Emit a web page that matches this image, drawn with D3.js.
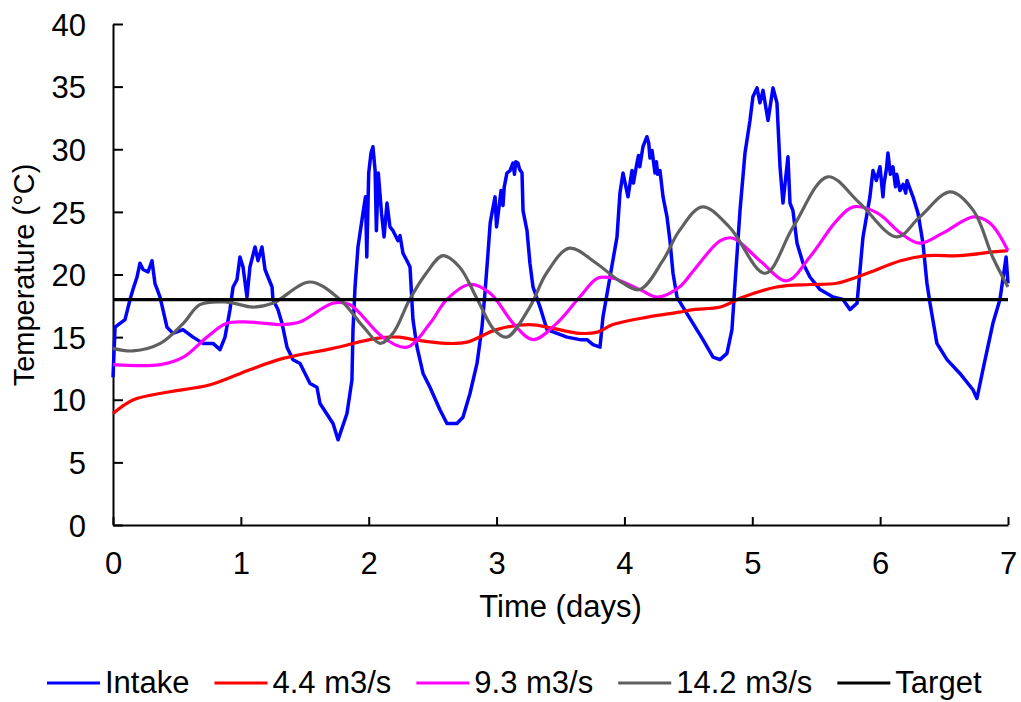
<!DOCTYPE html>
<html>
<head>
<meta charset="utf-8">
<script src="https://cdn.jsdelivr.net/npm/d3@7"></script>
<style>
  body { margin: 0; background: #fff; }
  text { font-family: "Liberation Sans", Arial, sans-serif; fill: #000; }
</style>
</head>
<body>
<svg id="chart" width="1021" height="702"></svg>
<script>
const svg = d3.select("#chart"); // Select the SVG element

// Series data: [time in days, temperature in °C]
const intake = [
    [0, 11.8], [0.016, 15.8], [0.055, 16.1], [0.094, 16.4], [0.133, 18.0], [0.156, 18.8], [0.188, 19.8],
    [0.211, 20.9], [0.235, 20.4], [0.274, 20.2], [0.305, 21.1], [0.328, 19.3], [0.368, 18.2], [0.422, 15.8],
    [0.469, 15.3], [0.547, 15.6], [0.626, 15.0], [0.704, 14.5], [0.782, 14.5], [0.837, 14.0], [0.876, 15.0],
    [0.915, 17.2], [0.939, 19.0], [0.970, 19.6], [0.993, 21.4], [1.017, 20.6], [1.048, 18.2], [1.071, 20.6],
    [1.111, 22.2], [1.134, 21.1], [1.165, 22.2], [1.189, 20.4], [1.212, 19.8], [1.244, 19.0], [1.251, 18.0],
    [1.290, 17.2], [1.322, 16.1], [1.361, 14.2], [1.408, 13.2], [1.463, 12.9], [1.541, 11.3], [1.595, 11.0],
    [1.619, 9.7], [1.721, 8.1], [1.760, 6.8], [1.830, 8.9], [1.869, 11.6], [1.877, 15.6], [1.893, 19.0],
    [1.916, 22.2], [1.955, 24.9], [1.975, 26.2], [1.985, 21.4], [2.0, 28.1], [2.018, 29.7], [2.033, 30.2],
    [2.050, 28.3], [2.060, 23.5], [2.075, 28.1], [2.100, 24.9], [2.120, 23.0], [2.143, 25.7], [2.166, 23.8],
    [2.190, 23.5], [2.229, 22.7], [2.245, 23.1], [2.268, 21.7], [2.299, 21.1], [2.323, 20.6], [2.346, 16.4],
    [2.378, 14.2], [2.425, 12.1], [2.479, 11.0], [2.557, 9.2], [2.612, 8.1], [2.690, 8.1], [2.737, 8.6],
    [2.792, 10.5], [2.847, 12.9], [2.886, 15.8], [2.909, 18.5], [2.933, 21.7], [2.950, 24.1], [2.964, 24.9],
    [2.988, 26.2], [3.0, 23.8], [3.035, 26.7], [3.05, 25.5], [3.06, 27.0], [3.081, 28.1], [3.105, 28.3],
    [3.128, 28.9], [3.14, 28.0], [3.15, 29.0], [3.167, 28.9], [3.18, 28.4], [3.199, 28.1], [3.207, 25.1],
    [3.238, 23.5], [3.261, 20.9], [3.285, 19.0], [3.340, 17.4], [3.394, 15.6],
    [3.473, 15.3], [3.551, 15.0], [3.652, 14.8], [3.707, 14.8], [3.754, 14.4], [3.809, 14.2], [3.832, 16.6],
    [3.887, 19.8], [3.942, 23.0], [3.965, 26.5], [3.989, 28.1], [4.028, 26.2], [4.059, 28.3], [4.07, 27.3],
    [4.098, 28.9], [4.11, 29.5], [4.12, 28.6], [4.145, 30.2], [4.176, 31.0], [4.19, 30.5], [4.2, 29.3],
    [4.216, 29.9], [4.239, 28.1], [4.25, 29.0], [4.26, 28.0], [4.278, 28.3], [4.302, 26.2], [4.333, 24.6],
    [4.356, 22.7], [4.380, 20.1], [4.411, 18.2], [4.458, 17.4], [4.536, 16.1], [4.614, 14.8], [4.693, 13.4],
    [4.747, 13.2], [4.802, 13.7], [4.841, 15.6], [4.865, 19.3], [4.904, 25.1], [4.943, 29.7], [4.982, 32.3],
    [5.005, 34.2], [5.037, 34.9], [5.060, 33.7], [5.084, 34.7], [5.123, 32.3], [5.162, 34.9], [5.193, 33.7],
    [5.217, 28.6], [5.240, 25.7], [5.279, 29.4], [5.295, 25.7], [5.318, 25.1], [5.350, 22.5], [5.397, 20.9],
    [5.451, 19.8], [5.530, 18.8], [5.631, 18.2], [5.709, 18.0], [5.764, 17.2], [5.819, 17.7], [5.866, 23.0],
    [5.920, 26.2], [5.944, 28.3], [5.97, 27.5], [5.999, 28.6], [6.022, 26.2], [6.03, 27.2], [6.05, 28.5],
    [6.061, 29.7], [6.08, 28.0], [6.100, 28.6], [6.12, 27.0], [6.13, 28.0], [6.155, 26.7], [6.18, 27.2],
    [6.2, 26.5], [6.210, 27.5], [6.257, 26.2], [6.296, 24.9], [6.335, 22.5], [6.366, 19.3], [6.390, 17.7],
    [6.444, 14.5], [6.523, 13.2], [6.624, 12.1], [6.726, 10.8], [6.757, 10.1], [6.804, 12.4], [6.882, 16.1],
    [6.937, 18.0], [6.985, 21.4], [7.0, 19.3]
];

const flow44 = [
    [0, 8.9], [0.16, 10.0], [0.42, 10.6], [0.76, 11.2], [1.07, 12.4], [1.33, 13.3], [1.72, 14.1], [2.06, 14.9],
    [2.24, 15.0], [2.35, 14.8], [2.61, 14.5], [2.77, 14.6], [3.0, 15.6], [3.26, 16.0], [3.44, 15.7], [3.65, 15.3],
    [3.79, 15.4], [3.91, 16.0], [4.18, 16.6], [4.43, 17.0], [4.54, 17.2], [4.75, 17.4], [4.93, 18.2], [5.19, 19.0],
    [5.45, 19.2], [5.66, 19.3], [5.90, 20.1], [6.16, 21.1], [6.37, 21.5], [6.62, 21.5], [6.88, 21.8], [7.0, 21.9]
];

const flow93 = [
    [0, 12.8], [0.37, 12.8], [0.55, 13.4], [0.735, 15.0], [0.89, 16.1], [1.07, 16.2], [1.33, 16.0], [1.46, 16.2],
    [1.72, 17.7], [1.85, 17.6], [2.11, 15.0], [2.30, 14.2], [2.48, 16.1], [2.61, 18.0], [2.79, 19.2], [2.95, 18.5],
    [3.13, 16.1], [3.285, 14.8], [3.47, 16.1], [3.65, 18.2], [3.79, 19.7], [3.91, 19.7], [4.12, 18.8], [4.26, 18.2],
    [4.43, 19.0], [4.54, 20.3], [4.75, 22.7], [4.85, 22.9], [5.06, 21.1], [5.27, 19.5], [5.45, 21.4], [5.66, 24.3],
    [5.79, 25.4], [5.98, 24.9], [6.16, 23.3], [6.31, 22.5], [6.49, 23.3], [6.73, 24.6], [6.86, 24.1], [7.0, 21.9]
];

const flow142 = [
    [0, 14.1], [0.156, 13.9], [0.37, 14.5], [0.55, 16.1], [0.68, 17.6], [0.89, 17.8], [1.095, 17.4], [1.25, 17.7],
    [1.54, 19.4], [1.775, 18.0], [1.96, 15.8], [2.09, 14.5], [2.19, 15.3], [2.32, 18.0], [2.45, 20.1], [2.58, 21.5],
    [2.71, 20.6], [2.85, 18.0], [2.98, 15.6], [3.08, 15.0], [3.26, 17.4], [3.39, 20.1], [3.57, 22.1], [3.78, 20.9],
    [3.96, 19.5], [4.12, 18.8], [4.30, 21.1], [4.43, 23.5], [4.61, 25.4], [4.82, 23.8], [5.10, 20.1], [5.32, 23.8],
    [5.59, 27.8], [5.84, 25.7], [6.13, 23.0], [6.31, 24.6], [6.55, 26.6], [6.73, 25.1], [6.88, 21.4], [7.0, 19.0]
];

const target = [[0, 18], [7, 18]];

const xTicks = [0, 1, 2, 3, 4, 5, 6, 7];
const yTicks = [0, 5, 10, 15, 20, 25, 30, 35, 40];

const seriesNames = ["Intake", "4.4 m3/s", "9.3 m3/s", "14.2 m3/s", "Target"];
const seriesColors = ["#0000ff", "#ff0000", "#ff00ff", "#606060", "#000000"];
const seriesData = [intake, flow44, flow93, flow142, target];

// Plot area
const plotLeft = 113, plotRight = 1008, plotTop = 24, plotBottom = 525;

const x = d3.scaleLinear().domain([0, 7]).range([plotLeft, plotRight]);
const y = d3.scaleLinear().domain([0, 40]).range([plotBottom, plotTop]);

// Axes (ticks point inward)
const xAxis = svg.append("g")
    .attr("transform", `translate(0,${plotBottom})`)
    .call(d3.axisBottom(x).tickValues(xTicks).tickFormat(d3.format("d")).tickSizeInner(-8).tickSizeOuter(0).tickPadding(27));

const yAxis = svg.append("g")
    .attr("transform", `translate(${plotLeft},0)`)
    .call(d3.axisLeft(y).tickValues(yTicks).tickFormat(d3.format("d")).tickSizeInner(-10).tickSizeOuter(0).tickPadding(27));

[xAxis, yAxis].forEach(g => {
    g.select(".domain").attr("stroke", "#000").attr("stroke-width", 2);
    g.selectAll(".tick line").attr("stroke", "#000").attr("stroke-width", 2);
    g.selectAll(".tick text").attr("font-size", 31).attr("font-family", "Liberation Sans, Arial, sans-serif").attr("fill", "#000");
});
yAxis.selectAll(".tick text").attr("dy", "0.36em");

// Axis titles
svg.append("text")
    .attr("x", (plotLeft + plotRight) / 2)
    .attr("y", 617)
    .attr("text-anchor", "middle")
    .attr("font-size", 31)
    .text("Time (days)");

svg.append("text")
    .attr("transform", "translate(34,275) rotate(-90)")
    .attr("text-anchor", "middle")
    .attr("font-size", 29)
    .text("Temperature (°C)");

// Lines
const smooth = d3.line()
    .x(d => x(d[0]))
    .y(d => y(d[1]))
    .curve(d3.curveCatmullRom.alpha(0.5));

const jagged = d3.line()
    .x(d => x(d[0]))
    .y(d => y(d[1]));

seriesData.forEach((data, i) => {
    svg.append("path")
        .datum(data)
        .attr("fill", "none")
        .attr("stroke", seriesColors[i])
        .attr("stroke-width", i === 0 ? 3.5 : 3.2)
        .attr("stroke-linejoin", "round")
        .attr("d", i === 0 ? jagged : smooth);
});

// Legend
const legend = svg.append("g").attr("transform", "translate(0,683)");
let lx = 47;
seriesNames.forEach((name, i) => {
    legend.append("line")
        .attr("x1", lx).attr("x2", lx + 53)
        .attr("y1", 0).attr("y2", 0)
        .attr("stroke", seriesColors[i])
        .attr("stroke-width", 3);
    const t = legend.append("text")
        .attr("x", lx + 58)
        .attr("y", 10)
        .attr("font-size", 31)
        .text(name);
    lx += 58 + t.node().getComputedTextLength() + 25;
});
</script>
</body>
</html>
